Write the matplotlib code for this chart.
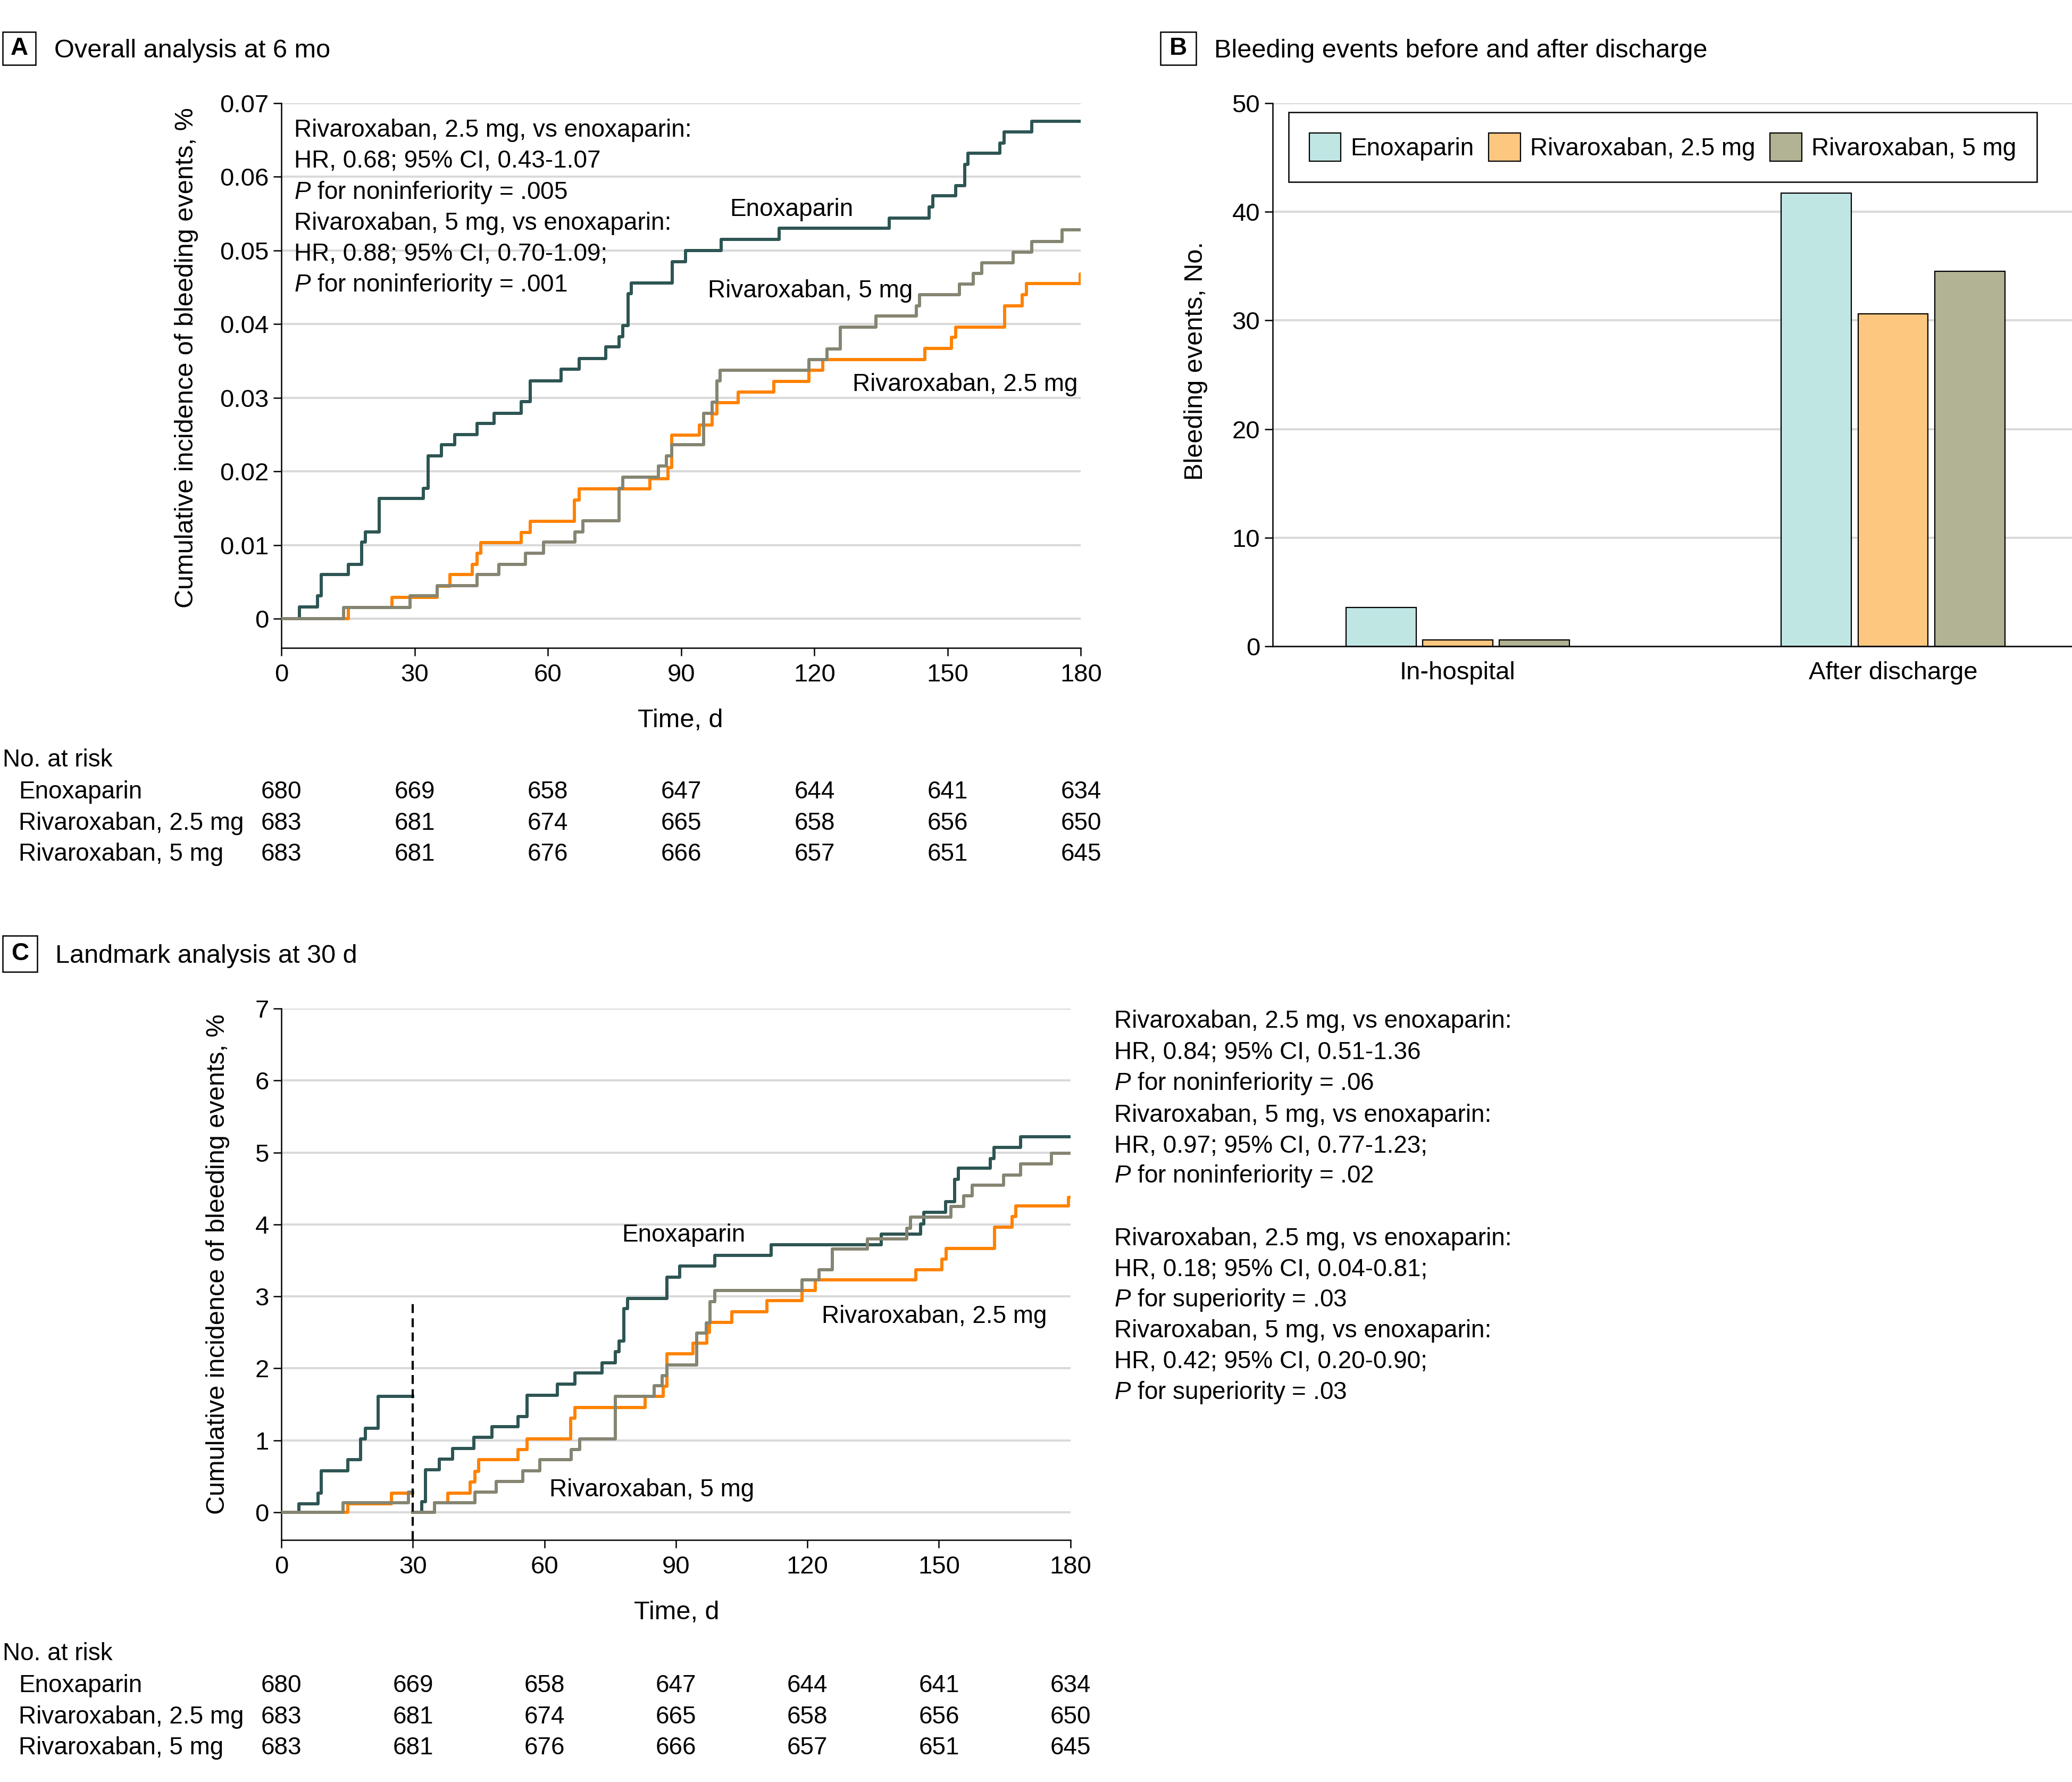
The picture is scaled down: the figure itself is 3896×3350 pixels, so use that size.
import matplotlib
matplotlib.use("Agg")
import matplotlib.pyplot as plt
from matplotlib.patches import Rectangle
from matplotlib.transforms import blended_transform_factory

plt.rcParams["font.family"] = ["Liberation Sans", "DejaVu Sans"]
plt.rcParams["mathtext.fontset"] = "custom"
plt.rcParams["mathtext.rm"] = "Liberation Sans"
plt.rcParams["mathtext.it"] = "Liberation Sans:italic"

# ---- data ----
# panel A: cumulative incidence (fraction), step times in days
enox_a_t = [0, 4.0, 8.1, 9.0, 15.0, 18.1, 18.9, 22.0, 32.0, 33.0, 36.0, 39.0, 44.0, 47.9, 54.0,
            56.0, 63.0, 67.0, 73.0, 76.0, 76.8, 78.0, 78.8, 88.0, 91.0, 99.0, 112.0, 136.8,
            145.8, 146.6, 151.8, 153.8, 154.5, 161.8, 162.7, 168.9, 180]
enox_a_v = [0, 0.0016, 0.0031, 0.0060, 0.0074, 0.0104, 0.0118, 0.0163, 0.0177, 0.0221, 0.0236,
            0.0250, 0.0265, 0.0279, 0.0295, 0.0323, 0.0339, 0.0353, 0.0369, 0.0383, 0.0398,
            0.0441, 0.0456, 0.0485, 0.0500, 0.0515, 0.0530, 0.0544, 0.0559, 0.0574, 0.0588,
            0.0617, 0.0632, 0.0646, 0.0661, 0.0675, 0.0675]
r25_a_t = [0, 15.0, 24.9, 35.1, 37.9, 43.0, 44.0, 44.9, 54.0, 56.0, 65.9, 67.0, 83.0, 87.0, 87.9,
           94.1, 97.0, 98.0, 102.8, 110.9, 118.8, 121.9, 144.8, 150.9, 151.8, 162.8, 166.8,
           167.7, 179.8, 180]
r25_a_v = [0, 0.0015, 0.0029, 0.0044, 0.0060, 0.0074, 0.0089, 0.0103, 0.0117, 0.0132, 0.0161,
           0.0176, 0.0190, 0.0205, 0.0249, 0.0263, 0.0278, 0.0293, 0.0308, 0.0322, 0.0337,
           0.0352, 0.0367, 0.0382, 0.0396, 0.0425, 0.0440, 0.0455, 0.0468, 0.0468]
r5_a_t = [0, 14.0, 29.0, 35.1, 44.0, 49.0, 54.9, 59.0, 66.1, 67.9, 76.0, 76.9, 84.9, 86.7, 87.9,
          95.0, 97.0, 98.0, 98.8, 118.8, 122.8, 125.8, 133.8, 143.0, 143.7, 152.7, 155.8, 157.7,
          164.7, 168.9, 175.7, 180]
r5_a_v = [0, 0.0015, 0.0031, 0.0045, 0.0060, 0.0074, 0.0089, 0.0104, 0.0118, 0.0133, 0.0177,
          0.0192, 0.0207, 0.0221, 0.0236, 0.0279, 0.0294, 0.0323, 0.0337, 0.0352, 0.0366,
          0.0396, 0.0411, 0.0425, 0.0440, 0.0454, 0.0469, 0.0483, 0.0498, 0.0512, 0.0528, 0.0528]

# panel C: landmark at 30 d (percent), before and after the landmark
enox_c1_t = [0, 4.0, 8.3, 9.1, 15.1, 18.1, 19.1, 22.0, 30]
enox_c1_v = [0, 0.12, 0.27, 0.58, 0.73, 1.02, 1.17, 1.61, 1.61]
enox_c2_t = [30, 32.0, 32.9, 36.0, 39.1, 43.9, 48.0, 54.0, 56.0, 63.0, 67.0, 73.1, 76.2, 77.0,
             78.1, 79.0, 88.0, 90.9, 98.9, 111.7, 136.8, 145.8, 146.6, 151.5, 153.6, 154.5,
             161.7, 162.6, 168.6, 180]
enox_c2_v = [0, 0.15, 0.59, 0.74, 0.89, 1.04, 1.19, 1.33, 1.63, 1.78, 1.94, 2.08, 2.23, 2.38,
             2.83, 2.97, 3.27, 3.42, 3.57, 3.72, 3.87, 4.01, 4.17, 4.32, 4.63, 4.78, 4.92, 5.07,
             5.22, 5.22]
r25_c1_t = [0, 15.1, 25.1, 30]
r25_c1_v = [0, 0.12, 0.27, 0.27]
r25_c2_t = [30, 34.9, 37.9, 43.1, 44.1, 45.0, 54.0, 56.0, 66.0, 67.0, 83.0, 87.1, 88.0, 93.9,
            97.0, 97.7, 102.8, 110.8, 118.8, 121.8, 144.7, 150.7, 151.6, 162.7, 166.7, 167.6,
            179.6, 180]
r25_c2_v = [0, 0.13, 0.27, 0.42, 0.57, 0.73, 0.87, 1.02, 1.31, 1.46, 1.61, 1.75, 2.20, 2.35,
            2.50, 2.64, 2.79, 2.94, 3.08, 3.23, 3.37, 3.52, 3.67, 3.96, 4.11, 4.26, 4.38, 4.38]
r5_c1_t = [0, 14.1, 29.0, 30]
r5_c1_v = [0, 0.13, 0.28, 0.28]
r5_c2_t = [30, 34.9, 44.1, 49.0, 55.1, 59.0, 66.1, 68.1, 76.2, 85.0, 86.9, 88.0, 94.8, 96.9,
           97.8, 98.9, 118.8, 122.7, 125.7, 133.7, 142.7, 143.5, 152.8, 155.6, 157.6, 164.7,
           168.7, 175.7, 180]
r5_c2_v = [0, 0.13, 0.28, 0.43, 0.58, 0.73, 0.87, 1.02, 1.61, 1.76, 1.90, 2.05, 2.49, 2.63,
           2.93, 3.08, 3.23, 3.37, 3.66, 3.80, 3.95, 4.10, 4.25, 4.40, 4.55, 4.69, 4.84, 4.99, 4.99]

# panel B: bleeding events, No.
b_groups = ["In-hospital", "After discharge"]
b_enox = [3.6, 41.7]
b_r25 = [0.6, 30.6]
b_r5 = [0.6, 34.5]

# number at risk
risk_days = [0, 30, 60, 90, 120, 150, 180]
risk_names = ["Enoxaparin", "Rivaroxaban, 2.5 mg", "Rivaroxaban, 5 mg"]
risk_enox = [680, 669, 658, 647, 644, 641, 634]
risk_r25 = [683, 681, 674, 665, 658, 656, 650]
risk_r5 = [683, 681, 676, 666, 657, 651, 645]

a_yticks = [0, 0.01, 0.02, 0.03, 0.04, 0.05, 0.06, 0.07]
a_ylabels = ["0", "0.01", "0.02", "0.03", "0.04", "0.05", "0.06", "0.07"]
c_yticks = [0, 1, 2, 3, 4, 5, 6, 7]
b_yticks = [0, 10, 20, 30, 40, 50]
landmark_day = 30
landmark_top = 2.93

a_notes = ["Rivaroxaban, 2.5 mg, vs enoxaparin:",
           "HR, 0.68; 95% CI, 0.43-1.07",
           r"$\mathit{P}$ for noninferiority = .005",
           "Rivaroxaban, 5 mg, vs enoxaparin:",
           "HR, 0.88; 95% CI, 0.70-1.09;",
           r"$\mathit{P}$ for noninferiority = .001"]
c_notes = ["Rivaroxaban, 2.5 mg, vs enoxaparin:",
           "HR, 0.84; 95% CI, 0.51-1.36",
           r"$\mathit{P}$ for noninferiority = .06",
           "Rivaroxaban, 5 mg, vs enoxaparin:",
           "HR, 0.97; 95% CI, 0.77-1.23;",
           r"$\mathit{P}$ for noninferiority = .02",
           "Rivaroxaban, 2.5 mg, vs enoxaparin:",
           "HR, 0.18; 95% CI, 0.04-0.81;",
           r"$\mathit{P}$ for superiority = .03",
           "Rivaroxaban, 5 mg, vs enoxaparin:",
           "HR, 0.42; 95% CI, 0.20-0.90;",
           r"$\mathit{P}$ for superiority = .03"]

# ---- styles ----
C_ENOX = "#2d5553"
C_R25 = "#ff8200"
C_R5 = "#858572"
BAR_ENOX = "#c0e6e4"
BAR_R25 = "#fdc780"
BAR_R5 = "#b2b294"
GRID = "#d9d9d9"
FS = 34
FS_SMALL = 33
LW = 4.3

# layout measured on a 1568 x 1348 copy of the reference
W, H = 1568, 1348


def fx(x):
    return x / W


def fy(y):
    return 1 - y / H


fig = plt.figure(figsize=(38.96, 33.5), dpi=100)


def panel_tag(letter, x0, x1, y0, y1, title):
    fig.patches.append(Rectangle((fx(x0), fy(y1)), fx(x1) - fx(x0), fy(y0) - fy(y1),
                                 transform=fig.transFigure, fill=False, ec="black", lw=1.8))
    fig.text(fx((x0 + x1) / 2), fy((y0 + y1) / 2), letter, ha="center", va="center",
             fontsize=FS_SMALL, fontweight="bold")
    fig.text(fx(x1 + 14), fy((y0 + y1) / 2 + 7), title, ha="left", va="baseline", fontsize=35)


def style_axis(ax):
    for s in ["top", "right"]:
        ax.spines[s].set_visible(False)
    for s in ["left", "bottom"]:
        ax.spines[s].set_linewidth(1.8)
    ax.tick_params(axis="both", width=1.8, length=11, labelsize=FS, colors="black")
    ax.tick_params(axis="x", pad=10)
    ax.tick_params(axis="y", pad=6)
    ax.yaxis.grid(True, color=GRID, lw=2.9, zorder=0)
    ax.set_axisbelow(True)


def risk_table(ax, y_head):
    tr = blended_transform_factory(ax.transData, fig.transFigure)
    fig.text(fx(2), fy(y_head), "No. at risk", ha="left", va="baseline", fontsize=FS_SMALL)
    rows = [risk_enox, risk_r25, risk_r5]
    for i, (name, row) in enumerate(zip(risk_names, rows)):
        yb = y_head + 24 + i * 23.6
        fig.text(fx(14), fy(yb), name, ha="left", va="baseline", fontsize=FS_SMALL)
        for d, n in zip(risk_days, row):
            ax.text(d, fy(yb), str(n), transform=tr, ha="center", va="baseline",
                    fontsize=FS_SMALL, clip_on=False)


# ---------------- panel A ----------------
axA = fig.add_axes([fx(213), fy(490), fx(818) - fx(213), fy(78) - fy(490)])
style_axis(axA)
axA.step(enox_a_t, enox_a_v, where="post", color=C_ENOX, lw=LW, zorder=3)
axA.step(r25_a_t, r25_a_v, where="post", color=C_R25, lw=LW, zorder=3)
axA.step(r5_a_t, r5_a_v, where="post", color=C_R5, lw=LW, zorder=3)
axA.set_xlim(0, 180)
axA.set_ylim(-0.07 * (490 - 468) / (468 - 78), 0.07)
axA.set_xticks(risk_days)
axA.set_yticks(a_yticks)
axA.set_yticklabels(a_ylabels)
for lbl, d, v in [("Enoxaparin", 101.0, 0.0547), ("Rivaroxaban, 5 mg", 96.0, 0.0436),
                  ("Rivaroxaban, 2.5 mg", 128.6, 0.0309)]:
    axA.text(d, v, lbl, ha="left", va="baseline", fontsize=FS_SMALL)
for i, line in enumerate(a_notes):
    fig.text(fx(222.5), fy(103.5 + i * 23.4), line, ha="left", va="baseline", fontsize=FS_SMALL)
fig.text(fx(141), fy(270.5), "Cumulative incidence of bleeding events, %", rotation=90,
         ha="center", va="center", fontsize=35)
fig.text(fx(515), fy(550), "Time, d", ha="center", va="baseline", fontsize=35)
panel_tag("A", 2, 27, 24, 49, "Overall analysis at 6 mo")
risk_table(axA, 580)

# ---------------- panel B ----------------
axB = fig.add_axes([fx(963), fy(489), 1 - fx(963), fy(78) - fy(489)])
style_axis(axB)
xs = list(range(len(b_groups)))
step, bw = 0.176, 0.161
for off, vals, col, name in [(-step, b_enox, BAR_ENOX, "Enoxaparin"),
                             (0, b_r25, BAR_R25, "Rivaroxaban, 2.5 mg"),
                             (step, b_r5, BAR_R5, "Rivaroxaban, 5 mg")]:
    axB.bar([x + off for x in xs], vals, width=bw, color=col, edgecolor="black", lw=1.6,
            zorder=3, label=name)
axB.set_xlim(-0.425, 1.411)
axB.set_ylim(0, 50)
axB.set_yticks(b_yticks)
axB.set_xticks(xs)
axB.set_xticklabels(b_groups)
axB.tick_params(axis="x", length=0, pad=20)
fig.text(fx(905), fy(273), "Bleeding events, No.", rotation=90, ha="center", va="center",
         fontsize=35)
leg = axB.legend(loc="upper left", bbox_to_anchor=(fx(975), fy(85)),
                 bbox_transform=fig.transFigure, ncol=3, fontsize=FS_SMALL, frameon=True,
                 fancybox=False, framealpha=1, edgecolor="black", borderaxespad=0,
                 handlelength=1.3, handleheight=1.4, handletextpad=0.4, columnspacing=0.6,
                 borderpad=0.85)
leg.get_frame().set_linewidth(1.8)
panel_tag("B", 878, 905, 24, 49, "Bleeding events before and after discharge")

# ---------------- panel C ----------------
axC = fig.add_axes([fx(213), fy(1165), fx(810) - fx(213), fy(763) - fy(1165)])
style_axis(axC)
c_bottom = -7 * (1165 - 1144) / (1144 - 763)
for t, v, col in [(enox_c1_t, enox_c1_v, C_ENOX), (enox_c2_t, enox_c2_v, C_ENOX),
                  (r25_c1_t, r25_c1_v, C_R25), (r25_c2_t, r25_c2_v, C_R25),
                  (r5_c1_t, r5_c1_v, C_R5), (r5_c2_t, r5_c2_v, C_R5)]:
    axC.step(t, v, where="post", color=col, lw=LW, zorder=3)
axC.vlines(landmark_day, c_bottom, landmark_top, colors="black", lw=3,
           linestyles=(0, (4, 2.4)), zorder=4)
axC.set_xlim(0, 180)
axC.set_ylim(c_bottom, 7)
axC.set_xticks(risk_days)
axC.set_yticks(c_yticks)
for lbl, d, v in [("Enoxaparin", 77.7, 3.76), ("Rivaroxaban, 2.5 mg", 123.3, 2.63),
                  ("Rivaroxaban, 5 mg", 61.1, 0.22)]:
    axC.text(d, v, lbl, ha="left", va="baseline", fontsize=FS_SMALL)
c_base = [777.6, 801.3, 824.5, 848.8, 871.9, 894.7, 941.8, 965.2, 988.3, 1011.8, 1035, 1058.2]
for yb, line in zip(c_base, c_notes):
    fig.text(fx(843), fy(yb), line, ha="left", va="baseline", fontsize=FS_SMALL)
fig.text(fx(165), fy(956.5), "Cumulative incidence of bleeding events, %", rotation=90,
         ha="center", va="center", fontsize=35)
fig.text(fx(512), fy(1225), "Time, d", ha="center", va="baseline", fontsize=35)
panel_tag("C", 2, 28, 708, 735, "Landmark analysis at 30 d")
risk_table(axC, 1256)

fig.savefig("out.png", dpi=100, facecolor="white")
